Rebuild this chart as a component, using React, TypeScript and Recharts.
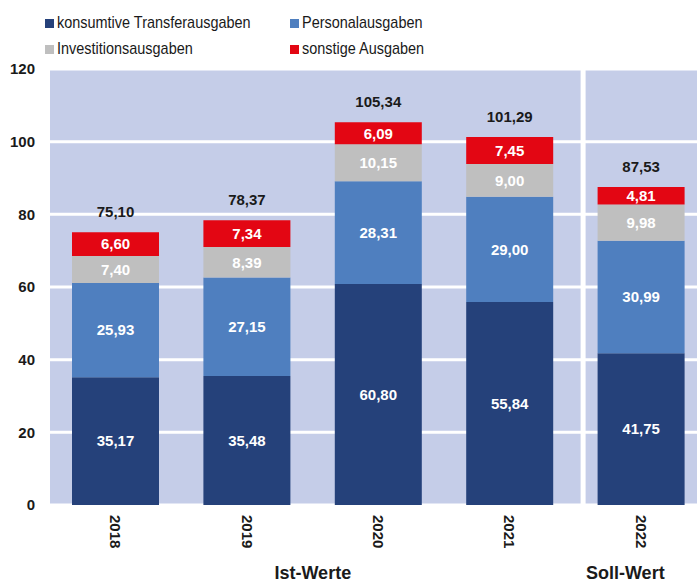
import React from 'react';
import {
  BarChart, Bar, XAxis, YAxis, CartesianGrid, LabelList, ReferenceLine,
} from 'recharts';

const years = ['2018', '2019', '2020', '2021', '2022'];
const transfer = [35.17, 35.48, 60.80, 55.84, 41.75];
const personal = [25.93, 27.15, 28.31, 29.00, 30.99];
const invest = [7.40, 8.39, 10.15, 9.00, 9.98];
const sonstige = [6.60, 7.34, 6.09, 7.45, 4.81];
const totals = [75.10, 78.37, 105.34, 101.29, 87.53];
const yTicks = [0, 20, 40, 60, 80, 100, 120];
const groupLabels = ['Ist-Werte', 'Soll-Wert'];
const groupAnchorYears = ['2019', '2022'];
const separatorYear = '2022';

const series = [
  { key: 'transfer', name: 'konsumtive Transferausgaben', color: '#25417a' },
  { key: 'personal', name: 'Personalausgaben', color: '#4f7fbf' },
  { key: 'invest', name: 'Investitionsausgaben', color: '#bfbfbf' },
  { key: 'sonstige', name: 'sonstige Ausgaben', color: '#e30613' },
];

const data = years.map((y, i) => ({
  year: y,
  transfer: transfer[i],
  personal: personal[i],
  invest: invest[i],
  sonstige: sonstige[i],
  total: totals[i],
}));

const FONT = '"Liberation Sans", Arial, sans-serif';
const fmt = (v: any) => Number(v).toFixed(2).replace('.', ',');

const CHART_W = 707;
const Y_W = 50;
const STEP = (CHART_W - Y_W) / years.length;
const groupDx = [STEP / 2, -16];

const YearTick = (props: any) => {
  const { x, y, payload } = props;
  return (
    <text
      transform={`translate(${x},${y + 10}) rotate(90)`}
      textAnchor="start"
      dominantBaseline="central"
      fontFamily={FONT}
      fontSize={15}
      fontWeight="bold"
      fill="#1a1a1a"
    >
      {payload.value}
    </text>
  );
};

const GroupTick = (props: any) => {
  const { x, y, payload } = props;
  const idx = groupAnchorYears.indexOf(payload.value);
  if (idx < 0) return <g />;
  return (
    <text
      x={x + groupDx[idx]}
      y={y + 18}
      textAnchor="middle"
      dominantBaseline="central"
      fontFamily={FONT}
      fontSize={18}
      fontWeight="bold"
      fill="#1a1a1a"
    >
      {groupLabels[idx]}
    </text>
  );
};

const SeparatorShape = (props: any) => {
  const { x1, y1, y2 } = props;
  const x = x1 - STEP / 2 + 7.5;
  return <line x1={x} x2={x} y1={y1} y2={y2} stroke="#ffffff" strokeWidth={5} />;
};

const legendPos = [
  { left: 45, top: 18 },
  { left: 290, top: 18 },
  { left: 45, top: 44 },
  { left: 290, top: 44 },
];

export default function App() {
  return (
    <div
      style={{
        position: 'absolute', left: 0, top: 0, width: 697, height: 582,
        overflow: 'hidden', background: '#ffffff', fontFamily: FONT,
      }}
    >
      <BarChart
        width={CHART_W}
        height={582}
        data={data}
        margin={{ top: 69, right: 0, bottom: 0, left: 0 }}
      >
        <CartesianGrid
          vertical={false}
          stroke="#ffffff"
          strokeWidth={3}
          fill="#c5cde8"
        />
        <XAxis
          xAxisId="cat"
          dataKey="year"
          type="category"
          axisLine={false}
          tickLine={false}
          tickSize={0}
          tickMargin={0}
          height={50}
          interval={0}
          tick={<YearTick />}
        />
        <XAxis
          xAxisId="grp"
          dataKey="year"
          type="category"
          axisLine={false}
          tickLine={false}
          tickSize={0}
          tickMargin={0}
          height={27}
          interval={0}
          tick={<GroupTick />}
        />
        <YAxis
          width={Y_W}
          domain={[0, 120]}
          ticks={yTicks}
          axisLine={false}
          tickLine={false}
          tickSize={0}
          tickMargin={15}
          interval={0}
          tick={{ fontFamily: FONT, fontSize: 15, fontWeight: 'bold', fill: '#1a1a1a' }}
        />
        <ReferenceLine
          xAxisId="cat"
          x={separatorYear}
          stroke="#ffffff"
          strokeWidth={5}
          shape={<SeparatorShape />}
        />
        {series.map((s, si) => (
          <Bar
            key={s.key}
            xAxisId="cat"
            dataKey={s.key}
            name={s.name}
            stackId="a"
            fill={s.color}
            barSize={87}
            isAnimationActive={false}
          >
            <LabelList
              dataKey={s.key}
              position="center"
              formatter={fmt}
              fill="#ffffff"
              fontFamily={FONT}
              fontSize={15}
              fontWeight="bold"
            />
            {si === series.length - 1 && (
              <LabelList
                dataKey="total"
                position="top"
                offset={15}
                formatter={fmt}
                fill="#1a1a1a"
                fontFamily={FONT}
                fontSize={15}
                fontWeight="bold"
              />
            )}
          </Bar>
        ))}
      </BarChart>
      {series.map((s, i) => (
        <div
          key={s.key}
          style={{
            position: 'absolute', left: legendPos[i].left, top: legendPos[i].top,
            display: 'flex', alignItems: 'center', height: 10,
            fontFamily: FONT, fontSize: 17, color: '#1a1a1a', whiteSpace: 'nowrap',
          }}
        >
          <span style={{ display: 'inline-block', width: 9, height: 9, background: s.color, marginRight: 3 }} />
          <span style={{ lineHeight: '10px', transform: 'scaleX(0.85)', transformOrigin: 'left center', display: 'inline-block' }}>{s.name}</span>
        </div>
      ))}
    </div>
  );
}
